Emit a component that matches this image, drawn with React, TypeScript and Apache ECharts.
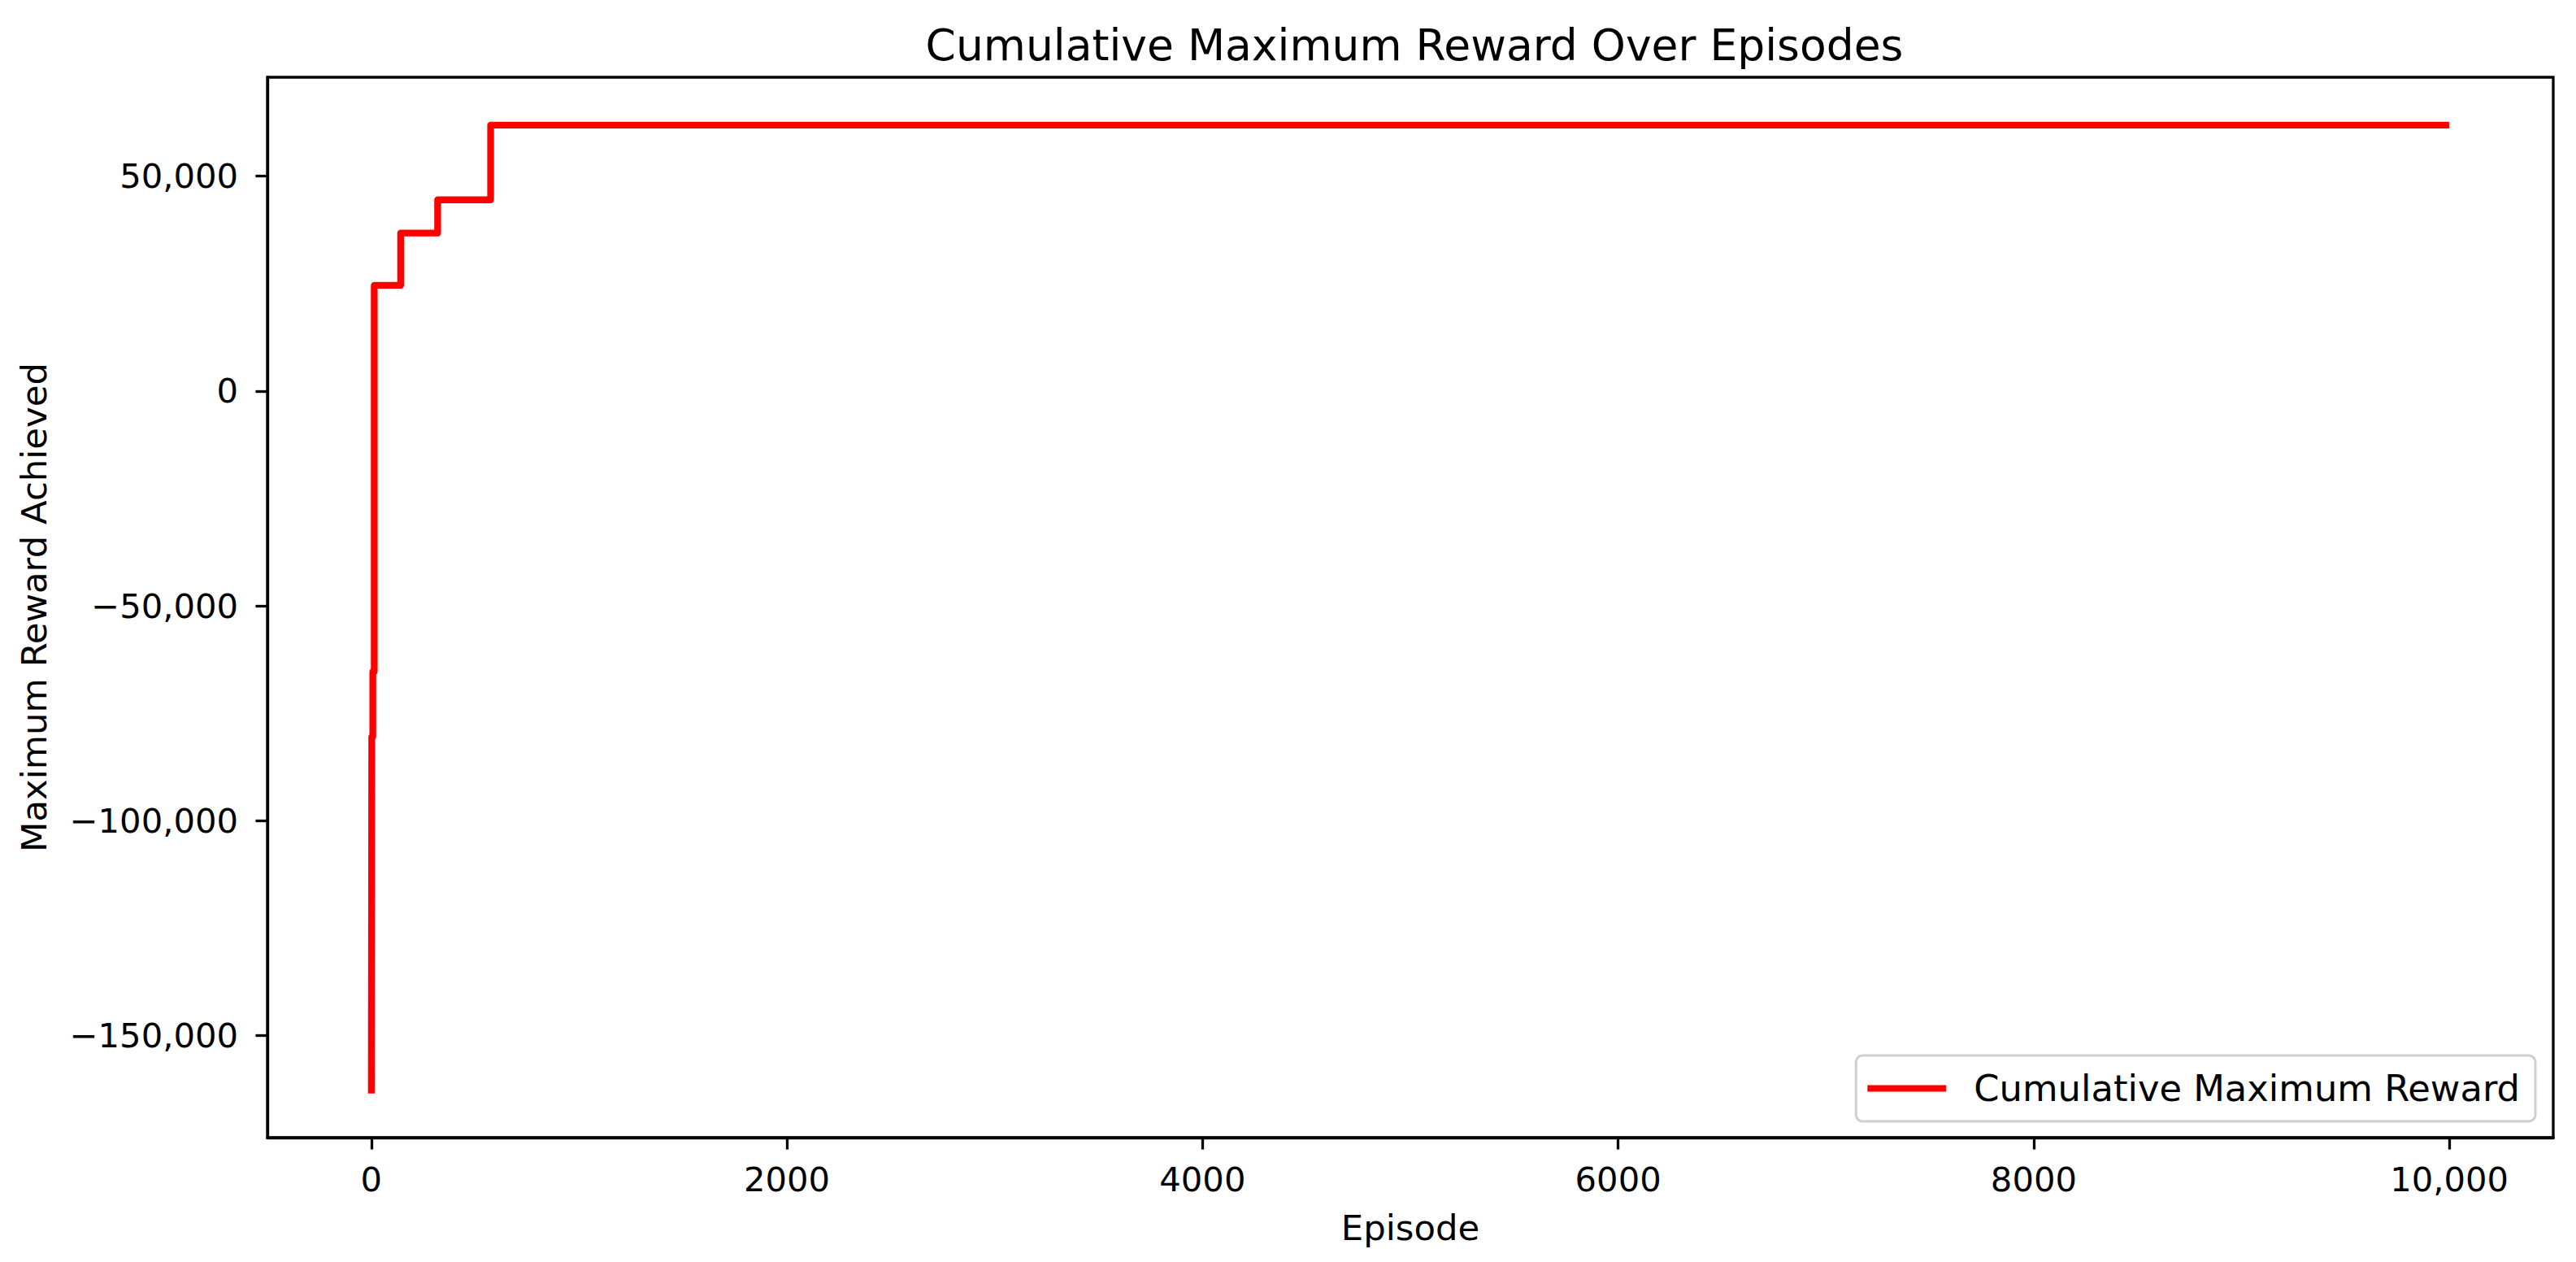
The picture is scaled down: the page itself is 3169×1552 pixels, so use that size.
import React, { useEffect, useRef } from "react";
import * as echarts from "echarts";

const episodes = [0, 2, 7, 14, 141, 319, 574, 9999];
const rewards = [-163500, -80500, -65300, 24600, 36750, 44500, 61900, 61900];
const xTicks = [0, 2000, 4000, 6000, 8000, 10000];
const yTicks = [-150000, -100000, -50000, 0, 50000];

const FONT = "DejaVu Sans";
const FS = 41.7;

function fmtComma(v: number): string {
  const s = Math.abs(v).toString().replace(/\B(?=(\d{3})+(?!\d))/g, ",");
  return (v < 0 ? "\u2212" : "") + s;
}

export default function App() {
  const ref = useRef<HTMLDivElement>(null);
  useEffect(() => {
    if (!ref.current) return;
    const chart = echarts.init(ref.current, null, { renderer: "svg" });
    const data = episodes.map((e, i) => [e, rewards[i]]);
    chart.setOption({
      animation: false,
      backgroundColor: "#ffffff",
      textStyle: { fontFamily: FONT },
      title: {
        text: "Cumulative Maximum Reward Over Episodes",
        left: 1735,
        top: 23,
        textAlign: "center",
        textStyle: { fontFamily: FONT, fontSize: 53.5, fontWeight: "normal", color: "#000" },
      },
      grid: {
        left: 329,
        right: 28,
        top: 95,
        bottom: 153,
        show: true,
        borderColor: "#000",
        borderWidth: 3.3,
        containLabel: false,
      },
      legend: {
        right: 50,
        top: 1298,
        orient: "horizontal",
        data: [{ name: "Cumulative Maximum Reward", icon: "rect" }],
        itemWidth: 97,
        itemHeight: 8,
        padding: [18, 19, 18, 14],
        borderColor: "#d0d0d0",
        borderWidth: 3,
        borderRadius: 8,
        backgroundColor: "rgba(255,255,255,0.8)",
        textStyle: { fontFamily: FONT, fontSize: 44.8, color: "#000", padding: [0, 0, 0, 29] },
      },
      xAxis: {
        type: "value",
        min: -500,
        max: 10500,
        name: "Episode",
        nameLocation: "middle",
        nameGap: 89,
        nameTextStyle: { fontFamily: FONT, fontSize: 43.4, color: "#000" },
        splitLine: { show: false },
        axisLine: { show: true, onZero: false, lineStyle: { color: "#000", width: 3.3 } },
        axisTick: {
          show: true,
          length: 14.6,
          lineStyle: { color: "#000", width: 3.3 },
          customValues: xTicks,
        },
        axisLabel: {
          fontFamily: FONT,
          fontSize: FS,
          color: "#000",
          margin: 30,
          customValues: xTicks,
          formatter: (v: number) => (v >= 10000 ? fmtComma(v) : String(v)),
        },
      },
      yAxis: {
        type: "value",
        min: -173750,
        max: 73030,
        name: "Maximum Reward Achieved",
        nameLocation: "middle",
        nameGap: 266,
        nameRotate: 90,
        nameTextStyle: { fontFamily: FONT, fontSize: 43.4, color: "#000" },
        splitLine: { show: false },
        axisLine: { show: true, onZero: false, lineStyle: { color: "#000", width: 3.3 } },
        axisTick: {
          show: true,
          length: 14.6,
          lineStyle: { color: "#000", width: 3.3 },
          customValues: yTicks,
        },
        axisLabel: {
          fontFamily: FONT,
          fontSize: FS,
          color: "#000",
          margin: 36,
          customValues: yTicks,
          formatter: (v: number) => fmtComma(v),
        },
      },
      series: [
        {
          name: "Cumulative Maximum Reward",
          type: "line",
          step: "end",
          data,
          showSymbol: false,
          symbol: "none",
          color: "#ff0000",
          lineStyle: { color: "#ff0000", width: 8.3, join: "round", cap: "butt" },
        },
      ],
    });
    return () => chart.dispose();
  }, []);
  return (
    <div
      ref={ref}
      style={{ position: "fixed", left: 0, top: 0, width: 3169, height: 1552 }}
    />
  );
}
